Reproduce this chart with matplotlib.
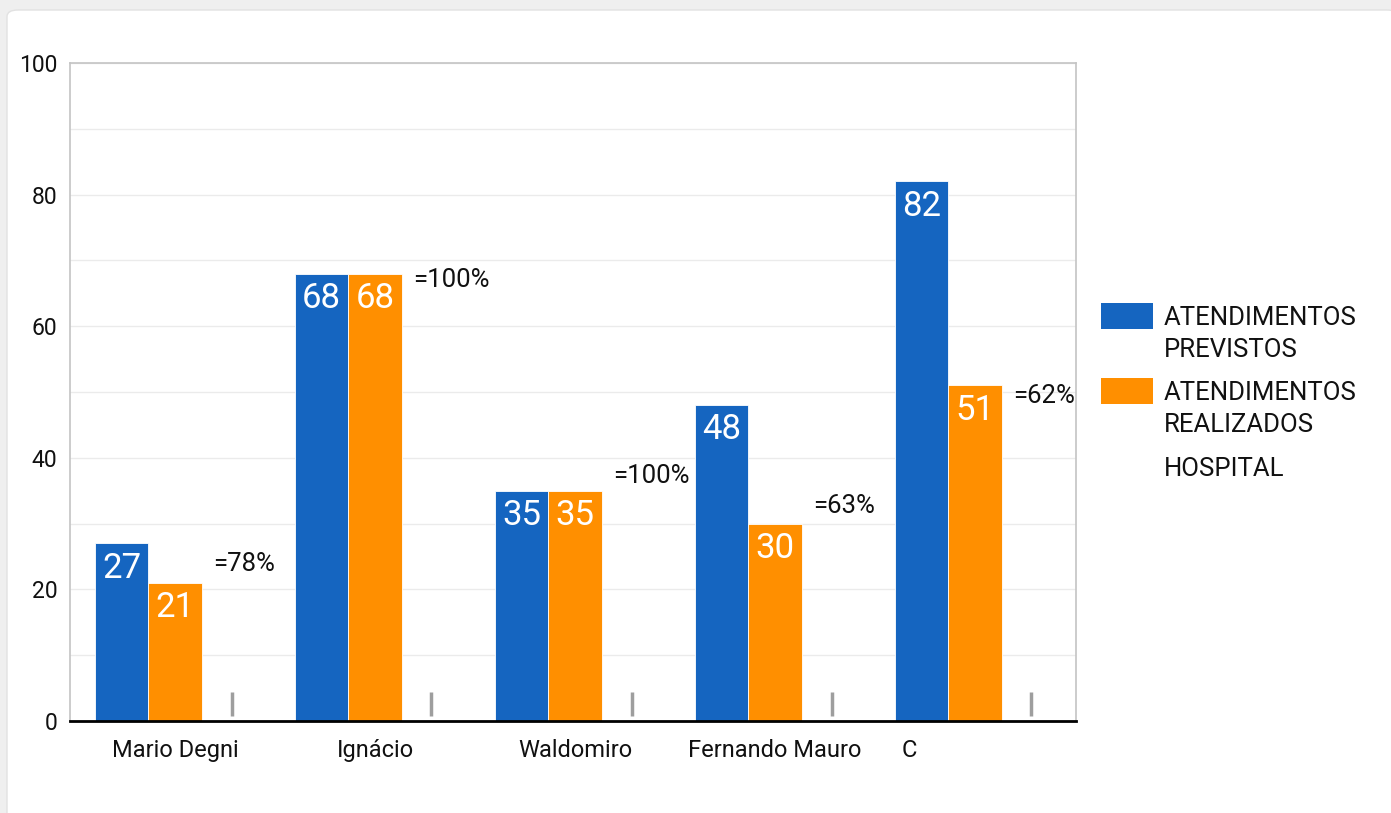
import numpy as np
import matplotlib.pyplot as plt
import matplotlib.transforms as mtransforms
from matplotlib.patches import FancyBboxPatch, Rectangle

plt.rcParams['font.family'] = ['Roboto', 'DejaVu Sans']

categories = ["Mario Degni", "Ignácio", "Waldomiro", "Fernando Mauro", "C"]
previstos = [27, 68, 35, 48, 82]
realizados = [21, 68, 35, 30, 51]
pct_labels = ["=78%", "=100%", "=100%", "=63%", "=62%"]
pct_y = [23.9, 67.0, 37.2, 32.7, 49.4]
hospital_marks = [(0.8, 4.4)] * 5
legend_names = ["ATENDIMENTOS\nPREVISTOS", "ATENDIMENTOS\nREALIZADOS", "HOSPITAL"]

BLUE = "#1565c0"
ORANGE = "#ff8f00"
W, H = 1391, 813

fig = plt.figure(figsize=(W / 100, H / 100), dpi=100)
fig.patch.set_facecolor("#efefef")
# white card behind everything
card = FancyBboxPatch((7 / W, -0.01), 1, 1 - 10 / H + 0.01,
                      boxstyle="round,pad=0,rounding_size=0.008",
                      transform=fig.transFigure, facecolor="white",
                      edgecolor="#e2e2e2", linewidth=1, zorder=-10)
fig.patches.append(card)

ax = fig.add_axes([70 / W, 92 / H, (1076 - 70) / W, (721 - 63) / H])
ax.set_facecolor("white")

x = np.arange(len(categories))
w = 0.2675
b1 = ax.bar(x - w, previstos, w, color=BLUE, edgecolor="white", linewidth=0.6, zorder=3)
b2 = ax.bar(x, realizados, w, color=ORANGE, edgecolor="white", linewidth=0.6, zorder=3)

for bars in (b1, b2):
    for rect in bars:
        h = rect.get_height()
        ax.annotate(f"{h:g}", (rect.get_x() + rect.get_width() / 2, h),
                    xytext=(0, -6), textcoords="offset points",
                    ha="center", va="top", color="white", fontsize=25, zorder=4)

# hospital series: small grey marks
for i, (lo, hi) in enumerate(hospital_marks):
    ax.vlines(x[i] + w + 0.015, lo, hi, color="#9e9e9e", linewidth=2.5, zorder=3)

for i, (lab, yy) in enumerate(zip(pct_labels, pct_y)):
    ax.text(x[i] + w * 0.72, yy, lab, fontsize=18.5, ha="left", va="center",
            color="#111111", zorder=4)

ax.set_xlim(-0.525, 4.505)
ax.set_ylim(0, 100)
ax.set_yticks(np.arange(0, 101, 20))
ax.set_yticks(np.arange(10, 100, 20), minor=True)
ax.tick_params(axis="y", which="both", length=0, labelsize=16.5, pad=9, labelcolor="#111111")
ax.grid(axis="y", which="both", color="#ebebeb", linewidth=1, zorder=0)

ax.set_xticks(x)
ax.set_xticklabels(categories, fontsize=17, color="#111111")
ax.tick_params(axis="x", length=0, pad=13)
lbl = ax.get_xticklabels()[-1]
lbl.set_ha("left")
lbl.set_transform(lbl.get_transform() + mtransforms.ScaledTranslation(-0.73, 0, fig.dpi_scale_trans))

for side in ("left", "right", "top"):
    ax.spines[side].set_color("#c4c4c4")
    ax.spines[side].set_linewidth(1.2)
ax.spines["bottom"].set_color("black")
ax.spines["bottom"].set_linewidth(2)
ax.spines["bottom"].set_zorder(5)

# legend, laid out by hand
swatch_colors = [BLUE, ORANGE, None]
text_tops = [306, 381, 457]
for name, col, top in zip(legend_names, swatch_colors, text_tops):
    if col:
        fig.patches.append(Rectangle((1101 / W, 1 - 329 / H + (306 - top) / H), 52 / W, 26 / H,
                                     transform=fig.transFigure, facecolor=col,
                                     edgecolor="none"))
    fig.text(1164 / W, 1 - top / H, name, fontsize=18.5, ha="left", va="top",
             color="#111111", linespacing=1.4)

fig.savefig("out.png", dpi=100, facecolor=fig.get_facecolor())
